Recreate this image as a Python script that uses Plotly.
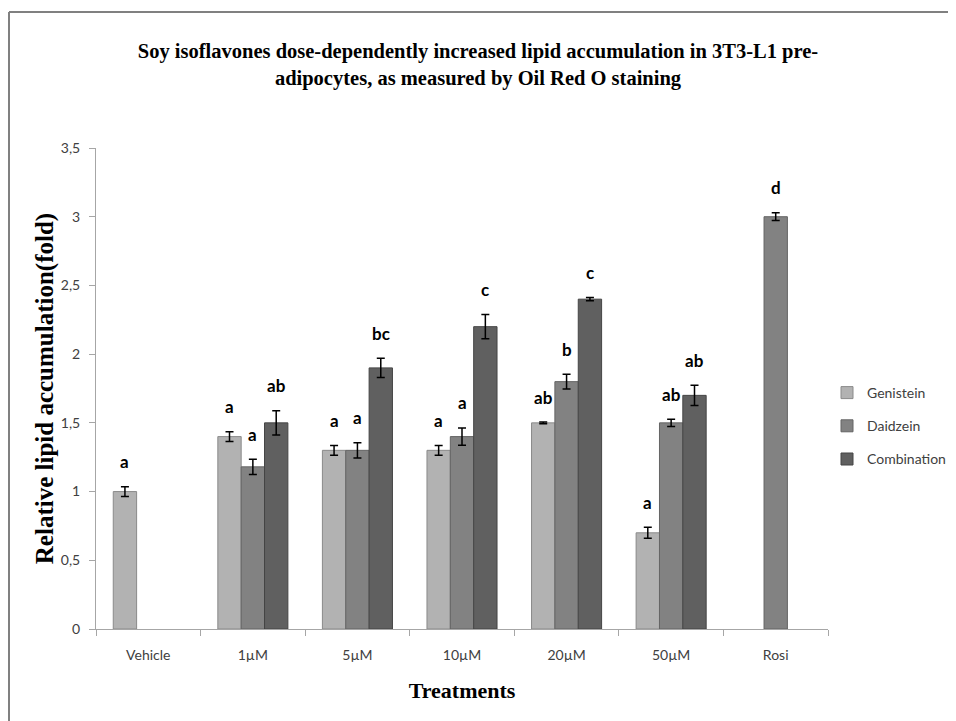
import plotly.graph_objects as go

categories = ["Vehicle", "1µM", "5µM", "10µM", "20µM", "50µM", "Rosi"]
series_names = ["Genistein", "Daidzein", "Combination"]

genistein = [1.00, 1.40, 1.30, 1.30, 1.50, 0.70, None]
daidzein = [None, 1.18, 1.30, 1.40, 1.80, 1.50, 3.00]
combination = [None, 1.50, 1.90, 2.20, 2.40, 1.70, None]

genistein_err = [0.035, 0.035, 0.035, 0.035, 0.006, 0.04, None]
daidzein_err = [None, 0.055, 0.055, 0.063, 0.053, 0.027, 0.028]
combination_err = [None, 0.088, 0.07, 0.088, 0.012, 0.073, None]

genistein_labels = ["a", "a", "a", "a", "ab", "a", ""]
daidzein_labels = ["", "a", "a", "a", "b", "ab", "d"]
combination_labels = ["", "ab", "bc", "c", "c", "ab", ""]

# page has an 8px body margin: build the figure 8px smaller and shift coordinates
OFF = 8
W, H = 956 - OFF, 721 - OFF
PL, PR, PT, PB = 96 - OFF, 828 - OFF, 148 - OFF, 629 - OFF  # plot box in figure px
ML, MR, MT, MB = PL, W - PR, PT, H - PB
plot_w = PR - PL
plot_h = PB - PT
bargap = 0.33

fills = ["#b2b2b2", "#828282", "#606060"]
edges = ["#8a8a8a", "#646464", "#454545"]

values = [genistein, daidzein, combination]
errs = [genistein_err, daidzein_err, combination_err]
labels = [genistein_labels, daidzein_labels, combination_labels]

fig = go.Figure()
for i, name in enumerate(series_names):
    fig.add_trace(go.Bar(
        name=name,
        x=categories,
        y=values[i],
        legendgroup=name,
        marker=dict(color=fills[i], line=dict(color=edges[i], width=1)),
        error_y=dict(type="data", array=errs[i], visible=True,
                     color="#000000", thickness=1.5, width=4),
    ))

cat_px = plot_w / len(categories)
bar_px = cat_px * (1 - bargap) / 3
annotations = []
for i in range(3):
    offset = (i - 1) * bar_px
    for j, cat in enumerate(categories):
        lab = labels[i][j]
        if not lab:
            continue
        top = values[i][j] + (errs[i][j] or 0)
        annotations.append(dict(
            x=cat, y=top, xref="x", yref="y", text=lab, showarrow=False,
            xshift=offset, yshift=25, yanchor="middle",
            font=dict(family="Lato", size=17, color="#000000", weight="bold"),
        ))

# outer frame (reference: left x=9, top y=12)
def px_x(x):
    return (x - OFF - PL) / plot_w

def px_y(y):
    return (PB - (y - OFF)) / plot_h

shapes = [
    dict(type="line", xref="paper", yref="paper", x0=px_x(9), x1=px_x(970), y0=px_y(12), y1=px_y(12),
         line=dict(color="#808080", width=2)),
    dict(type="line", xref="paper", yref="paper", x0=px_x(9), x1=px_x(9), y0=px_y(12), y1=px_y(740),
         line=dict(color="#808080", width=2)),
]

fig.update_layout(
    width=W, height=H,
    margin=dict(l=ML, r=MR, t=MT, b=MB, autoexpand=False),
    paper_bgcolor="white", plot_bgcolor="white",
    barmode="group", bargap=bargap, bargroupgap=0,
    separators=", ",
    title=dict(
        text="Soy isoflavones dose-dependently increased lipid accumulation in 3T3-L1 pre-<br>adipocytes, as measured by Oil Red O staining",
        x=(478 - OFF) / W, xanchor="center", xref="container", y=1 - (58 - OFF) / H, yanchor="middle", yref="container",
        font=dict(family="Liberation Serif", size=20.5, color="#000000", weight="bold"),
    ),
    xaxis=dict(
        showline=True, linecolor="#a6a6a6", linewidth=1,
        ticks="outside", tickson="boundaries", ticklen=6, tickcolor="#a6a6a6",
        tickfont=dict(family="Lato", size=14, color="#404040"),
        ticklabelstandoff=13,
        title=dict(text="Treatments", standoff=20,
                   font=dict(family="Liberation Serif", size=22, color="#000000", weight="bold")),
        showgrid=False, automargin=False,
    ),
    yaxis=dict(
        range=[0, 3.5], dtick=0.5, tick0=0,
        showline=True, linecolor="#a6a6a6", linewidth=1,
        ticks="outside", ticklen=6, tickcolor="#a6a6a6",
        tickfont=dict(family="Lato", size=14, color="#404040"),
        ticklabelstandoff=6,
        title=dict(text="Relative lipid accumulation(fold)", standoff=0,
                   font=dict(family="Liberation Serif", size=25, color="#000000", weight="bold")),
        showgrid=False, zeroline=False, automargin=False,
    ),
    legend=dict(
        x=px_x(827), xanchor="left", y=px_y(426), yanchor="middle",
        font=dict(family="Lato", size=14, color="#404040"),
        tracegroupgap=12, bgcolor="rgba(0,0,0,0)",
    ),
    annotations=annotations,
    shapes=shapes,
)

fig.write_html("out.html")
